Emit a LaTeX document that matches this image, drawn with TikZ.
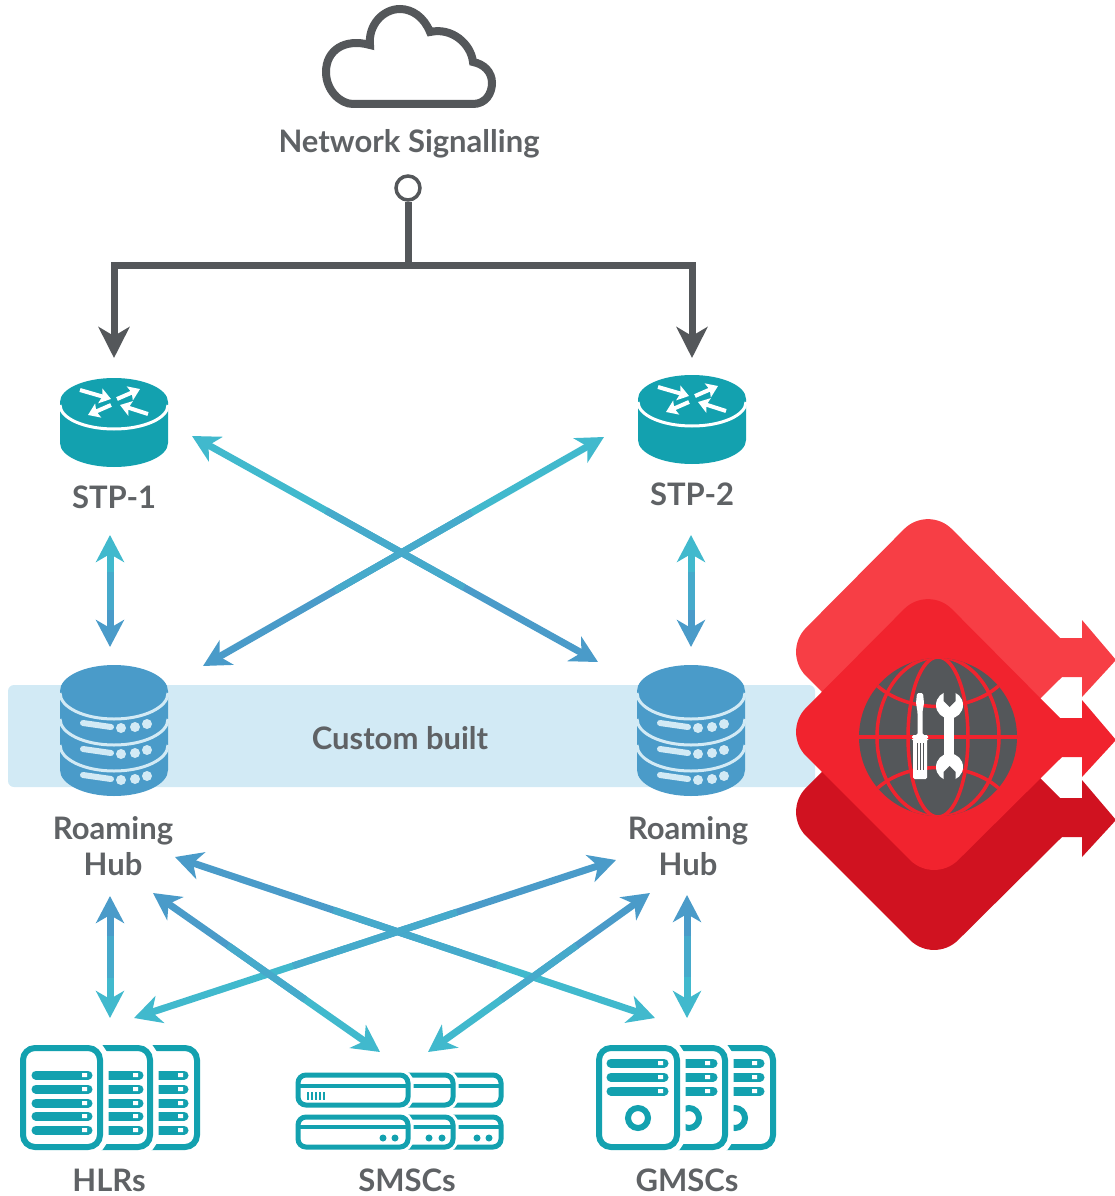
\documentclass[tikz,border=0pt]{standalone}
\usepackage{fontspec}
\setmainfont{Lato}
\usetikzlibrary{calc,arrows.meta}
\definecolor{slate}{HTML}{54575A}
\definecolor{labelgrey}{HTML}{5F6265}
\definecolor{iconteal}{HTML}{13A1AF}
\definecolor{hubblue}{HTML}{4A9BC9}
\definecolor{linkteal}{HTML}{41B9CD}
\definecolor{linkmid}{HTML}{46AACB}
\definecolor{bandblue}{HTML}{D2EAF5}
\definecolor{redtop}{HTML}{F73E45}
\definecolor{redmid}{HTML}{F1232E}
\definecolor{redlow}{HTML}{D01220}
\tikzset{
  lbl/.style={text=labelgrey,font=\fontsize{31}{35}\selectfont\bfseries,inner sep=0pt},
  signal/.style={draw=slate,line width=7pt,>={Stealth[length=31pt,width=31pt,inset=9pt]}},
  link/.style={line width=7pt,>={Stealth[length=27pt,width=28pt,inset=8pt]}},
  card/.style={draw=iconteal,line width=6pt,rounded corners=12pt,fill=white,preaction={draw=white,line width=17pt}},
  rack/.style={draw=iconteal,line width=5pt,rounded corners=8pt,fill=white,preaction={draw=white,line width=11pt}},
  bar/.style={draw=iconteal,line width=9pt,line cap=round},
  routerarrow/.style={draw=white,->,line width=4pt,>={Stealth[length=11pt,width=15pt,inset=2pt]}},
  routericon/.pic={
    \fill[iconteal](-54,0)--(-54,41) arc (180:0:54 and 24)--(54,0)--cycle;
    \fill[iconteal](0,0) ellipse (54 and 24);
    \draw[white,line width=3pt](-54,3) arc (180:0:54 and 24);
    \draw[routerarrow](-34,-12)--(-3,-3);
    \draw[routerarrow](3,-3)--(26,-13);
    \draw[routerarrow](-3,3)--(-26,13);
    \draw[routerarrow](34,12)--(6,3);
  },
  hubicon/.pic={
    \fill[hubblue](-54,0)--(-54,79) arc (180:0:54 and 26)--(54,0)--cycle;
    \fill[hubblue](0,0) ellipse (54 and 26);
    \draw[bandblue,line width=3pt](-54,2) arc (180:0:54 and 26);
    \draw[bandblue,line width=3pt](-54,28) arc (180:0:54 and 26);
    \draw[bandblue,line width=3pt](-54,54) arc (180:0:54 and 26);
    \draw[bandblue,line width=6pt,line cap=round](-31,32)--(-3,36) (-31,58)--(-3,62) (-31,84)--(-3,88);
    \fill[bandblue](7,37) circle (5) (21,36) circle (5) (33,33) circle (5);
    \fill[bandblue](7,63) circle (5) (21,62) circle (5) (33,59) circle (5);
    \fill[bandblue](7,89) circle (5) (21,88) circle (5) (33,85) circle (5);
  },
  reddiamond/.pic={
    \fill[pic actions](1060,638)[rounded corners=34pt]--(928,505)--(782,652)--(934,804)[sharp corners]--(1062,677)--(1082,677)--(1082,697)--(1116,660)--(1082,620)--(1082,638)--cycle;
  }
}
% one link, three tones from the upper colour to the lower one
\newcommand{\duallink}[4]{
  \draw[link,->,draw=#3]($(#1)!0.5!(#2)$)--(#1);
  \draw[link,->,draw=#4]($(#1)!0.5!(#2)$)--(#2);
  \draw[link,draw=linkmid]($(#1)!0.33!(#2)$)--($(#1)!0.67!(#2)$);
}
\begin{document}
\begin{tikzpicture}[x=1pt,y=-1pt]
  \useasboundingbox(0,0) rectangle (1115,1196);
  % band behind the hubs
  \fill[bandblue,rounded corners=6pt](8,685) rectangle (815,787);
  \node[lbl] (custom) at (400,738){Custom built};
  % cloud
  \draw[signal,line width=8pt,fill=white](353,104)--(473,104)
    .. controls (486,104) and (492,93) .. (492,83)
    .. controls (492,72) and (484,64) .. (473,62)
    .. controls (471,44) and (452,27) .. (430,32)
    .. controls (424,17) and (412,9) .. (400,9)
    .. controls (383,9) and (368,25) .. (370,45)
    .. controls (345,38) and (326,50) .. (326,72)
    .. controls (326,90) and (340,104) .. (353,104)--cycle;
  \node[lbl] (cloudlabel) at (409,144){Network Signalling};
  \node[draw=slate,line width=3.5pt,circle,minimum size=24pt,inner sep=0pt] (port) at (408,188){};
  \coordinate (fork) at (408,265);
  \coordinate (forka) at (114,265);
  \coordinate (forkb) at (692,265);
  \coordinate (stpain) at (114,358);
  \coordinate (stpbin) at (692,358);
  \draw[signal](port)--(fork);
  \draw[signal,->](fork)--(forka)--(stpain);
  \draw[signal,->](fork)--(forkb)--(stpbin);
  % routers and hubs
  \pic at (114,402){routericon};
  \pic at (692,399){routericon};
  \pic at (114,691){hubicon};
  \pic at (691,691){hubicon};
  \node[lbl] (stpa) at (114,497){STP-1};
  \node[lbl] (stpb) at (692,494){STP-2};
  \node[lbl] (huba) at (113,831){Roaming};
  \node[lbl] (hubaa) at (113,864){Hub};
  \node[lbl] (hubb) at (688,831){Roaming};
  \node[lbl] (hubbb) at (688,864){Hub};
  \node[lbl] (hlr) at (109,1180){HLRs};
  \node[lbl] (smsc) at (407,1180){SMSCs};
  \node[lbl] (gmsc) at (687,1180){GMSCs};
  % link ends
  \coordinate (a1) at (110,535); \coordinate (a2) at (110,647);
  \coordinate (b1) at (691,535); \coordinate (b2) at (691,647);
  \coordinate (c1) at (192,436); \coordinate (c2) at (598,662);
  \coordinate (d1) at (604,437); \coordinate (d2) at (203,666);
  \coordinate (e1) at (110,896); \coordinate (e2) at (110,1018);
  \coordinate (f1) at (687,895); \coordinate (f2) at (687,1018);
  \coordinate (g1) at (175,857); \coordinate (g2) at (655,1018);
  \coordinate (h1) at (616,860); \coordinate (h2) at (134,1018);
  \coordinate (i1) at (153,893); \coordinate (i2) at (380,1052);
  \coordinate (j1) at (650,893); \coordinate (j2) at (428,1052);
  \duallink{a1}{a2}{linkteal}{hubblue}
  \duallink{b1}{b2}{linkteal}{hubblue}
  \duallink{c1}{c2}{linkteal}{hubblue}
  \duallink{d1}{d2}{linkteal}{hubblue}
  \duallink{e1}{e2}{hubblue}{linkteal}
  \duallink{f1}{f2}{hubblue}{linkteal}
  \duallink{g1}{g2}{hubblue}{linkteal}
  \duallink{h1}{h2}{hubblue}{linkteal}
  \duallink{i1}{i2}{hubblue}{linkteal}
  \duallink{j1}{j2}{hubblue}{linkteal}
  % HLRs
  \draw[card](110,1048) rectangle (197,1147);
  \draw[bar](150,1075)--(184,1075) (150,1089)--(184,1089) (150,1103)--(184,1103) (150,1116)--(184,1116) (150,1130)--(184,1130);
  \fill[white](178,1073) rectangle (183,1077) (178,1087) rectangle (183,1091) (178,1101) rectangle (183,1105) (178,1114) rectangle (183,1118) (178,1128) rectangle (183,1132);
  \draw[card](60,1048) rectangle (150,1147);
  \draw[bar](100,1075)--(139,1075) (100,1089)--(139,1089) (100,1103)--(139,1103) (100,1116)--(139,1116) (100,1130)--(139,1130);
  \fill[white](133,1073) rectangle (138,1077) (133,1087) rectangle (138,1091) (133,1101) rectangle (138,1105) (133,1114) rectangle (138,1118) (133,1128) rectangle (138,1132);
  \draw[card](23,1048) rectangle (100,1147);
  \draw[bar](36,1075)--(88,1075) (36,1089)--(88,1089) (36,1103)--(88,1103) (36,1116)--(88,1116) (36,1130)--(88,1130);
  \fill[white](82,1073) rectangle (87,1077) (82,1087) rectangle (87,1091) (82,1101) rectangle (87,1105) (82,1114) rectangle (87,1118) (82,1128) rectangle (87,1132);
  % SMSCs
  \draw[rack](420,1075) rectangle (501,1105);
  \draw[iconteal,line width=3.5pt](440,1086)--(501,1086);
  \draw[rack](370,1075) rectangle (453,1105);
  \draw[iconteal,line width=3.5pt](400,1086)--(453,1086);
  \draw[rack](298,1075) rectangle (408,1105);
  \draw[iconteal,line width=3.5pt](298,1086)--(408,1086);
  \draw[iconteal,line width=1.8pt](308,1092)--(308,1100) (312,1092)--(312,1100) (316,1092)--(316,1100) (320,1092)--(320,1100) (324,1092)--(324,1100);
  \draw[rack](420,1117) rectangle (501,1147);
  \draw[iconteal,line width=3.5pt](440,1127)--(501,1127);
  \fill[iconteal](477,1138) circle (3.5) (489,1138) circle (3.5);
  \draw[rack](370,1117) rectangle (453,1147);
  \draw[iconteal,line width=3.5pt](400,1127)--(453,1127);
  \fill[iconteal](429,1138) circle (3.5) (442,1138) circle (3.5);
  \draw[rack](298,1117) rectangle (408,1147);
  \draw[iconteal,line width=3.5pt](298,1127)--(408,1127);
  \fill[iconteal](383,1138) circle (3.5) (395,1138) circle (3.5);
  % GMSCs
  \draw[card](690,1048) rectangle (773,1147);
  \draw[bar](725,1063)--(760,1063) (725,1077)--(760,1077) (725,1091)--(760,1091);
  \fill[white](752,1061) rectangle (757,1065) (752,1075) rectangle (757,1079) (752,1089) rectangle (757,1093);
  \draw[iconteal,line width=6pt](735,1118) circle (10);
  \draw[card](640,1048) rectangle (725,1147);
  \draw[bar](675,1063)--(713,1063) (675,1077)--(713,1077) (675,1091)--(713,1091);
  \fill[white](705,1061) rectangle (710,1065) (705,1075) rectangle (710,1079) (705,1089) rectangle (710,1093);
  \draw[iconteal,line width=6pt](689,1118) circle (10);
  \draw[card](599,1048) rectangle (677,1147);
  \draw[bar](611,1063)--(664,1063) (611,1077)--(664,1077) (611,1091)--(664,1091);
  \fill[white](658,1061) rectangle (663,1065) (658,1075) rectangle (663,1079) (658,1089) rectangle (663,1093);
  \draw[iconteal,line width=6pt](638,1118) circle (10);
  % red badge
  \pic[fill=redlow] at (0,160){reddiamond};
  \pic[fill=redtop] at (0,0){reddiamond};
  \pic[fill=redmid] at (0,80){reddiamond};
  % globe
  \fill[slate](938,737) circle (79);
  \begin{scope}
    \clip (938,737) circle (79);
    \draw[redmid,line width=3.5pt](938,737) ellipse (30 and 80);
    \draw[redmid,line width=3.5pt](938,737) ellipse (61 and 80);
    \draw[redmid,line width=3.5pt](855,737)--(1020,737);
    \draw[redmid,line width=3.5pt](870,678) .. controls (900,716) and (976,716) .. (1006,678);
    \draw[redmid,line width=3.5pt](870,796) .. controls (900,758) and (976,758) .. (1006,796);
  \end{scope}
  % screwdriver and wrench
  \fill[white,rounded corners=1.5pt](917,693)--(923,693)--(924,703)--(922.5,712)--(922.5,735)--(928,735)--(928,739)--(927,739)--(927,779)--(913,779)--(913,739)--(912,739)--(912,735)--(917.5,735)--(917.5,712)--(916,703)--cycle;
  \draw[slate,line width=1pt](917,743)--(917,770) (920,743)--(920,770) (923,743)--(923,770);
  \fill[white](944,700) rectangle (954,770);
  \fill[white](949.5,705) circle (13.5) (949.5,767) circle (13.5);
  \fill[slate](943.5,689)--(955.5,689)--(955.5,701)--(949.5,707)--(943.5,701)--cycle;
  \fill[slate](943.5,784)--(955.5,784)--(955.5,772)--(949.5,766)--(943.5,772)--cycle;
\end{tikzpicture}
\end{document}
